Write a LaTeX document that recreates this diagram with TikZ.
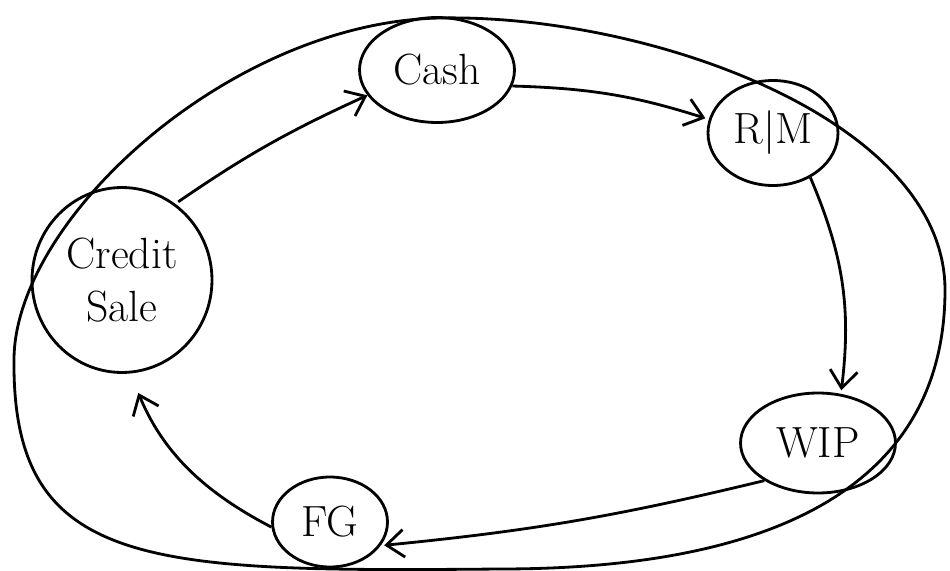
\documentclass[tikz,border=0pt]{standalone}
\usepackage{tikz}
\usetikzlibrary{arrows.meta, positioning, shapes.geometric}

\begin{document}
\begin{tikzpicture}[x=0.02cm, y=-0.02cm, line width=1.6pt,
    stage/.style={ellipse, draw, inner sep=0pt, align=center, font=\Huge},
    flow/.style={-{Straight Barb[length=3.5mm, width=5.5mm]}}]
    \useasboundingbox (0,0) rectangle (950,571);

    % outer loop round the whole cycle
    \draw (440,18) .. controls (650,14) and (945,120) .. (945,290)
        .. controls (945,470) and (800,569) .. (500,569)
        .. controls (150,572) and (12,570) .. (14,360)
        .. controls (14,220) and (230,22) .. cycle;

    \node[stage, minimum width=3.1cm, minimum height=2.1cm] (cash) at (437,70) {Cash};
    \node[stage, minimum width=2.6cm, minimum height=2.1cm] (rm) at (773,133) {R$|$M};
    \node[stage, minimum width=3.1cm, minimum height=2cm] (wip) at (818,443) {WIP};
    \node[stage, minimum width=2.3cm, minimum height=1.8cm] (fg) at (330,522) {FG};
    \node[stage, minimum width=3.6cm, minimum height=3.7cm] (cs) at (122,280) {Credit\\Sale};

    \path[flow]
    (cs.55) edge[bend left=5, shorten <=2pt] (cash.200)
    (cash.-12) edge[bend left=8, shorten >=2pt] (rm.168)
    (rm.-50) edge[bend left=15, shorten >=2pt] (wip.65)
    (wip.215) edge[bend left=4, shorten >=2pt] (fg.-25)
    (fg.185) edge[bend left=20, shorten >=12pt] (cs.-85);
\end{tikzpicture}
\end{document}
